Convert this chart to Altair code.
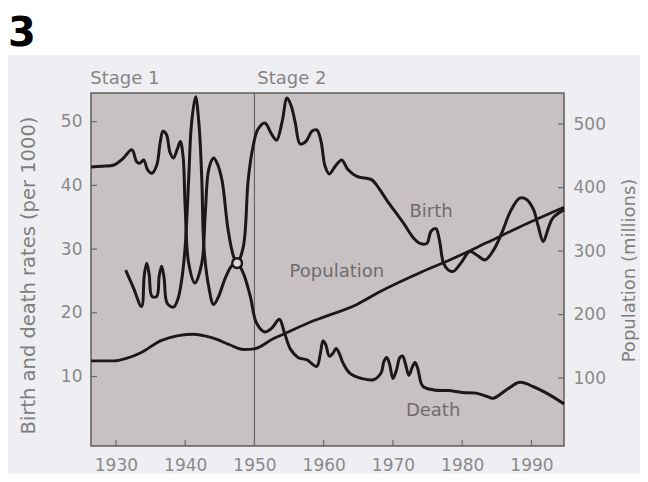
import altair as alt
import pandas as pd

# ---------------- data ----------------
birth_years = [1926.4, 1928.0, 1929.7, 1931.0, 1932.3, 1933.0, 1933.5, 1934.0, 1934.6, 1935.2,
               1935.9, 1936.4, 1936.8, 1937.3, 1937.8, 1938.3, 1938.9, 1939.3, 1939.7, 1940.0,
               1940.5, 1941.4, 1942.4, 1942.9, 1943.4, 1944.1, 1944.6, 1945.3, 1946.2, 1947.0,
               1947.5, 1948.4, 1949.1, 1949.8, 1950.5, 1951.5, 1952.5, 1953.2, 1954.0, 1954.7,
               1955.3, 1955.9, 1956.6, 1957.5, 1958.3, 1959.0, 1959.6, 1960.2, 1960.8, 1961.8,
               1962.6, 1963.5, 1964.8, 1966.9, 1968.0, 1969.1, 1971.5, 1973.0, 1973.9, 1974.9,
               1975.5, 1976.2, 1976.7, 1977.3, 1978.0, 1978.7, 1979.8, 1981.1, 1982.2, 1983.3,
               1984.5, 1985.7, 1987.0, 1988.3, 1989.3, 1990.3, 1991.0, 1991.7, 1992.5, 1993.1,
               1994.7]
birth_rate = [42.9, 43.0, 43.2, 44.2, 45.6, 43.7, 43.5, 44.0, 42.4, 41.9,
              43.2, 46.8, 48.5, 48.0, 45.2, 44.3, 45.8, 46.9, 44.5, 36.5,
              27.8, 24.7, 27.8, 35.6, 42.5, 44.3, 43.5, 40.9, 33.0, 28.8,
              27.8, 30.4, 40.9, 46.1, 48.8, 49.8, 48.0, 47.1, 50.0, 53.7,
              52.5, 49.8, 46.5, 47.0, 48.5, 48.7, 47.0, 43.0, 41.8, 43.2,
              44.0, 42.5, 41.4, 40.9, 39.5, 37.7, 34.1, 31.7, 30.9, 30.9,
              32.8, 33.2, 31.5, 27.8, 26.7, 26.5, 27.8, 29.6, 29.0, 28.3,
              29.8, 32.5, 36.0, 38.0, 37.8, 36.2, 33.5, 31.2, 33.5, 34.9,
              36.2]

death_years = [1931.4, 1932.5, 1933.7, 1934.1, 1934.45, 1934.8, 1935.2, 1935.9, 1936.25, 1936.6,
               1936.95, 1937.4, 1938.3, 1938.9, 1939.5, 1940.0, 1940.5, 1940.9, 1941.5, 1942.0,
               1942.4, 1942.7, 1943.4, 1944.1, 1944.8, 1945.8, 1946.8, 1947.5, 1948.4, 1949.4,
               1950.3, 1951.5, 1952.5, 1953.6, 1954.3, 1955.2, 1956.3, 1957.6, 1959.0, 1959.5,
               1959.9, 1960.3, 1960.8, 1961.3, 1961.8, 1962.3, 1962.8, 1963.8, 1965.5, 1967.2,
               1968.3, 1968.7, 1969.1, 1969.5, 1970.0, 1970.5, 1971.0, 1971.4, 1971.8, 1972.3,
               1972.8, 1973.2, 1973.6, 1974.3, 1975.9, 1978.0, 1980.0, 1982.0, 1983.5, 1984.5,
               1986.5, 1988.3, 1990.3, 1992.5, 1994.7]
death_rate = [26.7, 24.0, 21.0, 26.0, 27.8, 26.0, 22.6, 22.6, 25.8, 27.3,
              25.5, 21.5, 20.9, 22.0, 25.2, 30.4, 40.9, 49.5, 53.9, 49.5,
              40.9, 30.4, 24.1, 21.3, 22.5, 25.5, 27.5, 27.8, 26.2, 22.6,
              18.4, 17.0, 17.6, 19.0, 17.0, 14.3, 13.0, 12.6, 11.6, 13.5,
              15.6, 15.0, 13.2, 13.6, 14.4, 13.5, 12.1, 10.5, 9.7, 9.5,
              10.6, 12.4, 13.0, 12.0, 9.7, 11.0, 13.0, 13.2, 12.0, 10.2,
              11.5, 12.2, 11.2, 8.5, 7.9, 7.8, 7.5, 7.4, 6.9, 6.6,
              8.0, 9.1, 8.4, 7.2, 5.7]

pop_years = [1926.4, 1929.7, 1931.5, 1933.6, 1936.5, 1939.0, 1941.3, 1943.0, 1944.6, 1946.5,
             1948.4, 1950.0, 1952.7, 1955.2, 1958.0, 1960.0, 1964.8, 1968.1, 1973.9, 1977.8,
             1983.5, 1988.3, 1994.7]
population = [127, 127, 131, 140, 159, 167, 169, 166, 161, 152,
              145, 146, 162, 174, 188, 196, 216, 236, 266, 284,
              313, 338, 369]

x_ticks = [1930, 1940, 1950, 1960, 1970, 1980, 1990]
rate_ticks = [10, 20, 30, 40, 50]
pop_ticks = [100, 200, 300, 400, 500]

stage_line = [1950]
crossing = {"year": [1947.5], "value": [27.8]}

series_labels = ["Birth", "Population", "Death"]
label_years = [1975.5, 1961.9, 1975.8]
label_values = [35.8, 26.4, 4.6]

stage_labels = ["Stage 1", "Stage 2"]
stage_years = [1926.3, 1950.4]
stage_values = [55.9, 55.9]

# ---------------- styling ----------------
W, H = 473, 353
FONT = "DejaVu Sans"
INK = "#1c1819"
GREY = "#8a8a8a"

xs = alt.Scale(domain=[1926.4, 1994.7], nice=False, zero=False)
ls = alt.Scale(domain=[-0.9, 54.5], nice=False, zero=False)
rs = alt.Scale(domain=[-7, 549], nice=False, zero=False)

x_axis = alt.Axis(values=x_ticks, format="d", ticks=False, domain=False, grid=False,
                  labelFont=FONT, labelFontSize=17, labelColor=GREY, labelPadding=11,
                  title=None)
X = alt.X("year:Q", scale=xs, axis=x_axis)

left_axis = alt.Axis(orient="left", values=rate_ticks, ticks=False, domain=False, grid=False,
                     labelFont=FONT, labelFontSize=17, labelColor=GREY, labelPadding=9,
                     title="Birth and death rates (per 1000)", titleFont=FONT,
                     titleFontSize=19.5, titleFontWeight="normal", titleColor="#7e7e7e",
                     titleAngle=270, titleAlign="center", titleBaseline="middle",
                     titleX=-63, titleY=182)
right_axis = alt.Axis(orient="right", values=pop_ticks, ticks=False, domain=False, grid=False,
                      labelFont=FONT, labelFontSize=17, labelColor=GREY, labelPadding=9,
                      title="Population (millions)", titleFont=FONT,
                      titleFontSize=18, titleFontWeight="normal", titleColor="#7e7e7e",
                      titleAngle=270, titleAlign="center", titleBaseline="middle",
                      titleX=65, titleY=177)

rates = pd.concat([
    pd.DataFrame({"year": birth_years, "value": birth_rate, "series": "Birth"}),
    pd.DataFrame({"year": death_years, "value": death_rate, "series": "Death"}),
])
pop_df = pd.DataFrame({"year": pop_years, "pop": population})

# white strip above the scanned figure
top_strip = alt.Chart(pd.DataFrame({"a": [0]})).mark_rect(color="white").encode(
    x=alt.value(-83), x2=alt.value(W + 76), y=alt.value(-85), y2=alt.value(-38))

panel_no = alt.Chart(pd.DataFrame({"t": ["3"]})).mark_text(
    font=FONT, fontSize=40, fontWeight="bold", color="black", align="left",
    baseline="alphabetic").encode(x=alt.value(-83), y=alt.value(-47), text="t:N")

stage_rule = alt.Chart(pd.DataFrame({"year": stage_line})).mark_rule(
    color="#666666", strokeWidth=1.2).encode(x=X)

x_tick_marks = alt.Chart(pd.DataFrame({"year": x_ticks})).mark_rule(
    color="#6a6a6a", strokeWidth=1.2).encode(x=X, y=alt.value(H), y2=alt.value(H - 6))

left_tick_marks = alt.Chart(pd.DataFrame({"v": rate_ticks})).mark_rule(
    color="#6a6a6a", strokeWidth=1.2).encode(
    y=alt.Y("v:Q", scale=ls, axis=None), x=alt.value(0), x2=alt.value(6))

right_tick_marks = alt.Chart(pd.DataFrame({"v": pop_ticks})).mark_rule(
    color="#6a6a6a", strokeWidth=1.2).encode(
    y=alt.Y("v:Q", scale=rs, axis=None), x=alt.value(W - 6), x2=alt.value(W))

rate_lines = alt.Chart(rates).mark_line(
    interpolate="catmull-rom", color=INK, strokeWidth=3.0, strokeJoin="round").encode(
    x=X, y=alt.Y("value:Q", scale=ls, axis=left_axis), detail="series:N")

pop_line = alt.Chart(pop_df).mark_line(
    interpolate="monotone", color=INK, strokeWidth=2.8).encode(
    x=X, y=alt.Y("pop:Q", scale=rs, axis=right_axis))

ring = alt.Chart(pd.DataFrame(crossing)).mark_point(
    shape="circle", size=95, filled=True, fill="#dcd8d9", stroke=INK, strokeWidth=2.4,
    opacity=1).encode(x=X, y=alt.Y("value:Q", scale=ls, axis=None))

labels = alt.Chart(pd.DataFrame({"year": label_years, "value": label_values,
                                 "label": series_labels})).mark_text(
    font=FONT, fontSize=18, color="#6f6b6c", align="center", baseline="middle").encode(
    x=X, y=alt.Y("value:Q", scale=ls, axis=None), text="label:N")

stages = alt.Chart(pd.DataFrame({"year": stage_years, "value": stage_values,
                                 "label": stage_labels})).mark_text(
    font=FONT, fontSize=18, color="#858585", align="left", baseline="alphabetic").encode(
    x=X, y=alt.Y("value:Q", scale=ls, axis=None), text="label:N")

chart = alt.layer(
    top_strip, panel_no, stage_rule, x_tick_marks, left_tick_marks, right_tick_marks,
    rate_lines, pop_line, ring, labels, stages
).resolve_scale(y="independent").properties(
    width=W, height=H, autosize="none",
    padding={"left": 83, "top": 85, "right": 76, "bottom": 28},
    background="#efeff3"
).configure_view(fill="#c7c1c3", stroke="#5e5e5e", strokeWidth=1.5)

chart.save("out.html", embed_options={"renderer": "svg", "actions": False})
